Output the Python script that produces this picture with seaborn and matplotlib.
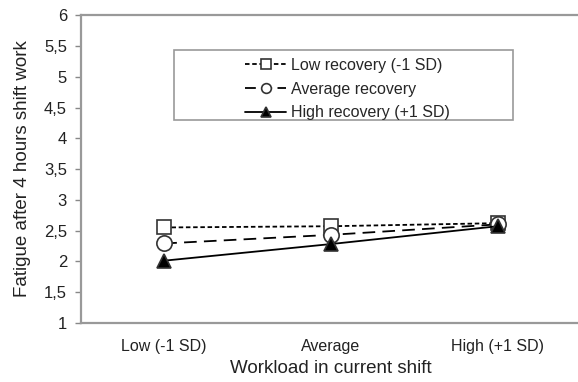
import numpy as np
import pandas as pd
import matplotlib
matplotlib.use('Agg')
import matplotlib.pyplot as plt
from matplotlib.patches import Rectangle
import seaborn as sns

sns.set_theme(style='white')
plt.rcParams['font.family'] = ['Liberation Sans', 'DejaVu Sans']

# data
workload = ['Low (-1 SD)', 'Average', 'High (+1 SD)']
low_recovery = [2.55, 2.57, 2.62]
avg_recovery = [2.29, 2.43, 2.60]
high_recovery = [2.01, 2.28, 2.57]
series_names = ['Low recovery (-1 SD)', 'Average recovery', 'High recovery (+1 SD)']
y_ticks = [1, 1.5, 2, 2.5, 3, 3.5, 4, 4.5, 5, 5.5, 6]

df = pd.DataFrame({
    'workload': workload * 3,
    'fatigue': low_recovery + avg_recovery + high_recovery,
    'group': [series_names[0]] * 3 + [series_names[1]] * 3 + [series_names[2]] * 3,
})

styles = {
    series_names[0]: dict(ls=(0, (2.5, 1.5)), marker='s', mfc='white', ms=10),
    series_names[1]: dict(ls=(0, (7, 4)), marker='o', mfc='white', ms=11),
    series_names[2]: dict(ls='-', marker='^', mfc='black', ms=10),
}

fig = plt.figure(figsize=(5.78, 3.82), dpi=100)
ax = fig.add_axes([0.14, 0.155, 0.865, 0.805])

for name in series_names:
    st = styles[name]
    sub = df[df['group'] == name]
    sns.lineplot(data=sub, x='workload', y='fatigue', ax=ax, color='black',
                 linewidth=1.3, linestyle=st['ls'], marker=st['marker'],
                 markersize=st['ms'], markerfacecolor=st['mfc'],
                 markeredgecolor='#333333', markeredgewidth=1.2,
                 label=name, sort=False)

ax.set_xlim(-0.5, 2.5)
ax.set_ylim(1, 6)
ax.set_yticks(y_ticks)
ax.set_yticklabels([('%g' % t).replace('.', ',') for t in y_ticks])
ax.tick_params(axis='y', which='major', left=True, length=4, width=1,
               color='#888888', labelsize=12, pad=6, labelcolor='#222222')
ax.tick_params(axis='x', bottom=False, labelsize=11.5, pad=6, labelcolor='#222222')

for side in ['left', 'top', 'bottom']:
    ax.spines[side].set_color('#999999')
    ax.spines[side].set_linewidth(1.6)
ax.spines['right'].set_visible(False)

ax.set_xlabel('Workload in current shift', fontsize=13.5, color='#222222', labelpad=4)
ax.set_ylabel('Fatigue after 4 hours shift work', fontsize=13.5, color='#222222', labelpad=9)

# legend box is wider than its content in the original
ax.add_patch(Rectangle((0.186, 0.659), 0.678, 0.228, transform=ax.transAxes,
                       facecolor='white', edgecolor='#999999', linewidth=1.2, zorder=4))
leg = ax.legend(loc='upper left', bbox_to_anchor=(0.328, 0.862), frameon=False,
                fontsize=11.5, handlelength=2.6, handletextpad=0.3,
                borderpad=0, labelspacing=0.55, borderaxespad=0)
leg.set_zorder(5)
for h in leg.legend_handles:
    h.set_markersize(7)
leg.legend_handles[1].set_linestyle((0, (6, 3)))

fig.savefig('out.png', dpi=100)
